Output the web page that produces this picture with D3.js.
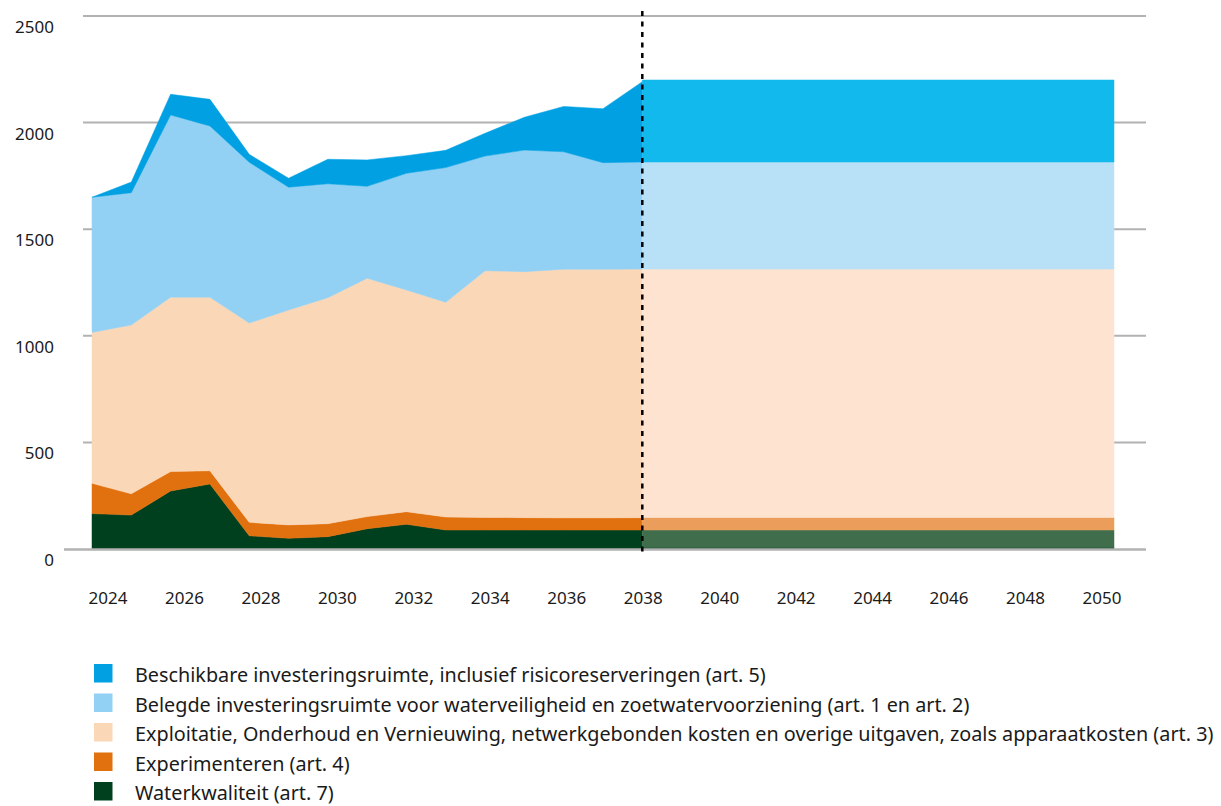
<!DOCTYPE html>
<html>
<head>
<meta charset="utf-8">
<script src="https://cdn.jsdelivr.net/npm/d3@7"></script>
<style>
  body { margin: 0; background: #fff; }
  svg { display: block; font-family: "Noto Sans", "Open Sans", sans-serif; }
  .tick-label { font-size: 17px; fill: #1a1a1a; }
  .legend-label { font-size: 19.8px; fill: #1a1a1a; }
</style>
</head>
<body>
<div id="chart"></div>
<script>
// data
var years = [2024, 2025, 2026, 2027, 2028, 2029, 2030, 2031, 2032, 2033, 2034, 2035, 2036, 2037, 2038];
var waterkwaliteit = [166, 159, 272, 305, 62, 50, 58, 95, 116, 89, 89, 89, 89, 89, 89];
var experimenteren = [142, 100, 91, 62, 63, 63, 61, 57, 59, 61, 59, 58, 57, 57, 58];
var exploitatie = [708, 792, 818, 814, 935, 1008, 1060, 1118, 1040, 1007, 1157, 1154, 1166, 1166, 1166];
var belegd = [634, 620, 855, 803, 754, 576, 534, 431, 547, 632, 538, 570, 551, 500, 502];
var beschikbaar = [0, 50, 97, 125, 37, 42, 115, 124, 83, 81, 107, 154, 213, 253, 377];

// projection 2038 - 2050 (flat)
var projYears = [2038, 2050];
var projKeys = ['wkBase', 'wk', 'exp', 'eov', 'bel', 'besch'];
var projValues = [8, 81, 59, 1165, 502, 385];

var yTicks = [0, 500, 1000, 1500, 2000, 2500];
var xTicks = [2024, 2026, 2028, 2030, 2032, 2034, 2036, 2038, 2040, 2042, 2044, 2046, 2048, 2050];

var seriesKeys = ['wk', 'exp', 'eov', 'bel', 'besch'];
var colors = {wk: '#01401f', exp: '#e1700e', eov: '#fad7b7', bel: '#93d1f4', besch: '#00a0e2'};
var projColors = {wkBase: '#01401f', wk: '#406e4d', exp: '#eb9e5b', eov: '#fde3d0', bel: '#b8e0f7', besch: '#12b9ec'};

var legendItems = [
    {key: 'besch', label: 'Beschikbare investeringsruimte, inclusief risicoreserveringen (art. 5)'},
    {key: 'bel', label: 'Belegde investeringsruimte voor waterveiligheid en zoetwatervoorziening (art. 1 en art. 2)'},
    {key: 'eov', label: 'Exploitatie, Onderhoud en Vernieuwing, netwerkgebonden kosten en overige uitgaven, zoals apparaatkosten (art. 3)'},
    {key: 'exp', label: 'Experimenteren (art. 4)'},
    {key: 'wk', label: 'Waterkwaliteit (art. 7)'}
];
// end data

var width = 1221, height = 806;

var svg = d3.select('#chart').append('svg')
    .attr('width', width)
    .attr('height', height);

var yScale = d3.scaleLinear().domain([0, 2500]).range([549, 16]);
var xData = d3.scaleLinear().domain([2024, 2050]).range([92, 1114]);
var xLabel = d3.scaleLinear().domain([2024, 2050]).range([108, 1102]);

// gridlines
svg.append('g').selectAll('line')
    .data(yTicks.filter(function(d){ return d > 0; }))
    .enter().append('line')
    .attr('x1', 83).attr('x2', 1146)
    .attr('y1', function(d){ return yScale(d); })
    .attr('y2', function(d){ return yScale(d); })
    .attr('stroke', '#b2b2b2')
    .attr('stroke-width', 2);

// historical stacked areas
var rows = years.map(function(y, i){
    return {year: y, wk: waterkwaliteit[i], exp: experimenteren[i], eov: exploitatie[i], bel: belegd[i], besch: beschikbaar[i]};
});
var stacked = d3.stack().keys(seriesKeys)(rows);

var area = d3.area()
    .x(function(d){ return xData(d.data.year); })
    .y0(function(d){ return yScale(d[0]); })
    .y1(function(d){ return yScale(d[1]); });

svg.append('g').selectAll('path')
    .data(stacked)
    .enter().append('path')
    .attr('d', area)
    .attr('fill', function(d){ return colors[d.key]; })
    .attr('stroke', function(d){ return colors[d.key]; })
    .attr('stroke-width', 0.5);

// projection
var projRows = projYears.map(function(y){
    var r = {year: y};
    projKeys.forEach(function(k, i){ r[k] = projValues[i]; });
    return r;
});
var projStacked = d3.stack().keys(projKeys)(projRows);

svg.append('g').selectAll('path')
    .data(projStacked)
    .enter().append('path')
    .attr('d', area)
    .attr('fill', function(d){ return projColors[d.key]; })
    .attr('stroke', function(d){ return projColors[d.key]; })
    .attr('stroke-width', 0.5);

// baseline
svg.append('line')
    .attr('x1', 64).attr('x2', 1146)
    .attr('y1', yScale(0) + 0.5).attr('y2', yScale(0) + 0.5)
    .attr('stroke', '#b2b2b2')
    .attr('stroke-width', 2.5);

// dashed line at 2038
svg.append('line')
    .attr('x1', xData(2038)).attr('x2', xData(2038))
    .attr('y1', 11).attr('y2', 554)
    .attr('stroke', '#000')
    .attr('stroke-width', 2.5)
    .attr('stroke-dasharray', '5,5.5');

// y labels
svg.append('g').selectAll('text')
    .data(yTicks)
    .enter().append('text')
    .attr('class', 'tick-label')
    .attr('x', 54)
    .attr('y', function(d){ return yScale(d) + 17; })
    .attr('text-anchor', 'end')
    .text(function(d){ return d; });

// x labels
svg.append('g').selectAll('text')
    .data(xTicks)
    .enter().append('text')
    .attr('class', 'tick-label')
    .attr('x', function(d){ return xLabel(d); })
    .attr('y', 604)
    .attr('text-anchor', 'middle')
    .text(function(d){ return d; });

// legend
var legend = svg.append('g').selectAll('g')
    .data(legendItems)
    .enter().append('g')
    .attr('transform', function(d, i){ return 'translate(94,' + (664 + i * 29.5) + ')'; });

legend.append('rect')
    .attr('width', 18.5).attr('height', 18.5)
    .attr('fill', function(d){ return colors[d.key]; });

legend.append('text')
    .attr('class', 'legend-label')
    .attr('x', 41)
    .attr('y', 18)
    .text(function(d){ return d.label; });
</script>
</body>
</html>
